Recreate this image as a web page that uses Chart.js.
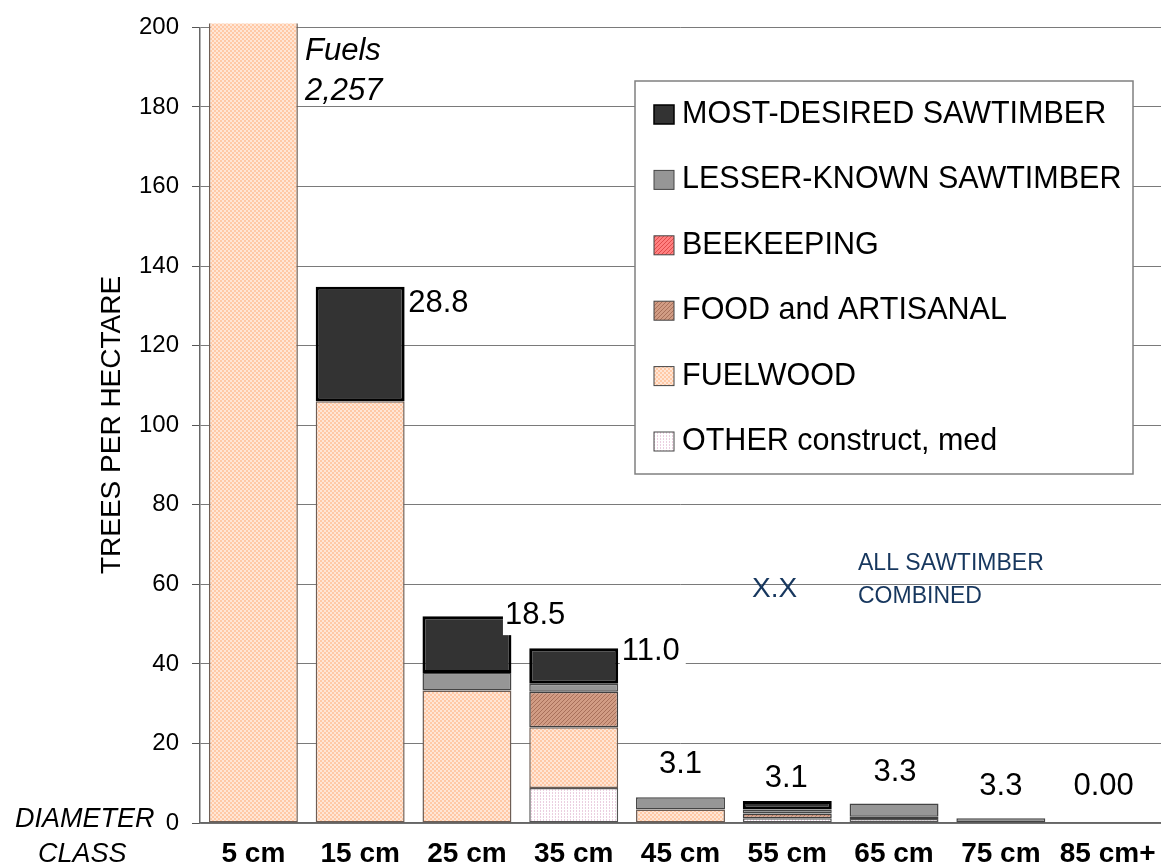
<!DOCTYPE html>
<html><head><meta charset="utf-8">
<script src="https://cdn.jsdelivr.net/npm/chart.js@4"></script>
<style>html,body{margin:0;padding:0;background:#fff;overflow:hidden}</style>
</head><body>
<canvas id="c" width="1161" height="868" style="width:1161px;height:868px;display:block"></canvas>
<script>
// ---- DATA ----
const categories = ['5 cm','15 cm','25 cm','35 cm','45 cm','55 cm','65 cm','75 cm','85 cm+'];
const otherUses   = [null, null, null, 8.8, null, 1.2, 1.0, null, null];
const fuelwood    = [2257, 106, 33.3, 15.3, 3.4, null, null, null, null];
const foodArtisan = [null, null, null, 8.9, null, 1.2, 0.6, null, null];
const beekeeping  = [null, null, null, null, null, null, null, null, null];
const lesserKnown = [null, null, 4.4, 2.0, 3.1, 1.0, 3.3, 1.2, null];
const mostDesired = [null, 28.8, 14.3, 8.9, null, 2.1, null, null, null];
const sawtimberLabels = ['', '28.8', '18.5', '11.0', '3.1', '3.1', '3.3', '3.3', '0.00'];
const seriesNames = ['OTHER construct, med','FUELWOOD','FOOD and ARTISANAL','BEEKEEPING','LESSER-KNOWN SAWTIMBER','MOST-DESIRED SAWTIMBER'];
const yTicks = {min: 0, max: 200, step: 20};

// ---- STYLE ----
const FONT = '"Liberation Sans", Arial, Helvetica, sans-serif';
function makePattern(w, h, draw) {
  const c = document.createElement('canvas'); c.width = w; c.height = h;
  const g = c.getContext('2d'); draw(g);
  return document.getElementById('c').getContext('2d').createPattern(c, 'repeat');
}
const fuelPat = makePattern(4, 4, g => {
  g.fillStyle = '#FFE6D6'; g.fillRect(0,0,4,4);
  g.fillStyle = '#FFC9A6'; g.fillRect(0,0,2,2); g.fillRect(2,2,2,2);
});
const foodPat = makePattern(4, 4, g => {
  g.fillStyle = '#D19C84'; g.fillRect(0,0,4,4);
  g.fillStyle = '#A8705A';
  for (let i = 0; i < 4; i++) g.fillRect(i, 3 - i, 1, 1);
});
const beePat = makePattern(4, 4, g => {
  g.fillStyle = '#FF8080'; g.fillRect(0,0,4,4);
  g.fillStyle = '#E04A4A';
  for (let i = 0; i < 4; i++) g.fillRect(i, 3 - i, 1, 1);
});
const otherPat = makePattern(3, 3, g => {
  g.fillStyle = '#FFFFFF'; g.fillRect(0,0,3,3);
  g.fillStyle = '#EBCFE0'; g.fillRect(0,0,1,2);
});

const labelPlacement = [
  null,
  {dx: 48, dy: 25, align: 'left'},
  {dx: 38, dy: 8, align: 'left', bg: true},
  {dx: 48, dy: 12, align: 'left', bg: true},
  {dx: 0, dy: -24, align: 'center'},
  {dx: -1, dy: -14, align: 'center'},
  {dx: 1, dy: -23, align: 'center'},
  {dx: 0, dy: -23, align: 'center'},
  {dx: -4, dy: -28, align: 'center'}
];

function ds(label, data, bg, border, bw) {
  return {label, data, backgroundColor: bg, borderColor: border, borderWidth: bw,
    borderSkipped: false, stack: 's', barPercentage: 0.833, categoryPercentage: 1.0,
    clip: {left: 0, top: 4, right: 0, bottom: 2}};
}

const extras = {
  id: 'extras',
  afterDatasetsDraw(chart) {
    const ctx = chart.ctx, xs = chart.scales.x, ys = chart.scales.y;
    ctx.save();
    ctx.font = '31px ' + FONT;
    ctx.textBaseline = 'alphabetic';
    for (let i = 0; i < categories.length; i++) {
      const p = labelPlacement[i];
      if (!p || !sawtimberLabels[i]) continue;
      const total = chart.data.datasets.reduce((s, d) => s + (d.data[i] || 0), 0);
      const top = ys.getPixelForValue(Math.min(total, yTicks.max));
      const cx = xs.getPixelForValue(i) + p.dx;
      const by = top + p.dy;
      const txt = sawtimberLabels[i];
      const w = ctx.measureText(txt).width;
      const left = p.align === 'left' ? cx : cx - w / 2;
      if (p.bg) { ctx.fillStyle = '#fff'; ctx.fillRect(left - 2, by - 24, w + 8, 35); }
      ctx.fillStyle = '#000'; ctx.textAlign = 'left';
      ctx.fillText(txt, left, by);
    }
    ctx.restore();
  },
  afterDraw(chart) {
    const ctx = chart.ctx;
    ctx.save();
    ctx.textBaseline = 'alphabetic';
    ctx.textAlign = 'left';
    ctx.fillStyle = '#000';
    // Fuels annotation
    ctx.font = 'italic 31px ' + FONT;
    ctx.fillText('Fuels', 305, 60);
    ctx.fillText(fuelwood[0].toLocaleString('en-US'), 305, 100);
    // Diameter class
    ctx.font = 'italic 27px ' + FONT;
    ctx.fillText('DIAMETER', 15, 827);
    ctx.fillText('CLASS', 38, 862);
    // Y title
    ctx.save();
    ctx.translate(120, 425); ctx.rotate(-Math.PI / 2);
    ctx.font = '28px ' + FONT; ctx.textAlign = 'center';
    ctx.fillText('TREES PER HECTARE', 0, 0);
    ctx.restore();
    // All sawtimber note
    ctx.fillStyle = '#17375E';
    ctx.font = '28px ' + FONT;
    ctx.fillText('X.X', 752, 597);
    ctx.font = '23px ' + FONT;
    ctx.fillText('ALL SAWTIMBER', 858, 570);
    ctx.fillText('COMBINED', 858, 603);
    // Legend
    const L = 635, T = 81, W = 498, H = 393;
    ctx.fillStyle = '#fff'; ctx.fillRect(L, T, W, H);
    ctx.strokeStyle = '#808080'; ctx.lineWidth = 1.5; ctx.strokeRect(L, T, W, H);
    const dsets = chart.data.datasets.slice().reverse();
    ctx.font = '30.5px ' + FONT;
    dsets.forEach((d, k) => {
      const base = 123 + k * 65.4;
      ctx.fillStyle = d.backgroundColor;
      ctx.fillRect(654, base - 18, 20, 19);
      ctx.strokeStyle = k === 0 ? '#000' : '#444'; ctx.lineWidth = k === 0 ? 1.5 : 1;
      ctx.strokeRect(654, base - 18, 20, 19);
      ctx.fillStyle = '#000';
      ctx.fillText(d.label, 682, base);
    });
    ctx.restore();
  }
};

new Chart(document.getElementById('c'), {
  type: 'bar',
  data: {
    labels: categories,
    datasets: [
      ds(seriesNames[0], otherUses, otherPat, '#555555', 1.5),
      ds(seriesNames[1], fuelwood, fuelPat, '#6E5E55', 1.5),
      ds(seriesNames[2], foodArtisan, foodPat, '#3f3f3f', 1.5),
      ds(seriesNames[3], beekeeping, beePat, '#3f3f3f', 1.5),
      ds(seriesNames[4], lesserKnown, '#969696', '#444444', 1.5),
      ds(seriesNames[5], mostDesired, '#333333', '#000000', 3)
    ]
  },
  options: {
    responsive: false,
    animation: false,
    devicePixelRatio: 1,
    layout: {padding: {top: 24, right: 0, left: 0, bottom: 0}},
    plugins: {legend: {display: false}, tooltip: {enabled: false}, title: {display: false}},
    scales: {
      x: {
        stacked: true,
        grid: {display: false, drawTicks: false},
        border: {display: true, color: '#666666', width: 1.5},
        ticks: {color: '#000', padding: 14, font: {family: FONT, size: 28, weight: 'bold'}, maxRotation: 0, autoSkip: false},
        afterFit(s) { s.height = 45; s.paddingLeft = 0; s.paddingRight = 0; }
      },
      y: {
        stacked: true,
        min: yTicks.min, max: yTicks.max,
        grid: {color: '#7a7a7a', lineWidth: 1, drawTicks: true, tickLength: 8, tickColor: '#555'},
        border: {display: true, color: '#666666', width: 1.5},
        ticks: {stepSize: yTicks.step, color: '#000', padding: 13, font: {family: FONT, size: 24}},
        afterFit(s) { s.width = 200; }
      }
    }
  },
  plugins: [extras]
});
</script>
</body></html>
